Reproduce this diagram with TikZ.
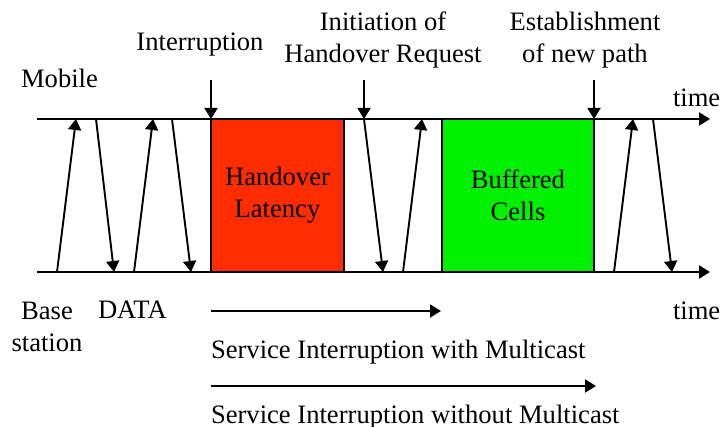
\documentclass[tikz,border=0pt]{standalone}
\usepackage{fontspec}
\setmainfont{Liberation Serif}
\usetikzlibrary{arrows.meta}
\definecolor{hored}{HTML}{FF2C00}
\definecolor{bufgreen}{HTML}{00F000}
\begin{document}
\begin{tikzpicture}[x=0.5pt,y=-0.5pt,
  every node/.style={font=\fontsize{13.3}{16}\selectfont, inner sep=0pt, outer sep=0pt},
  lbl/.style={anchor=base, align=center},
  tip/.style={-{Triangle[length=5.5pt,width=6.5pt]}},
  axis/.style={tip, line width=1.1pt},
  msg/.style={tip, line width=0.95pt},
  box/.style={draw=black, line width=1.1pt}]
\useasboundingbox (0,0) rectangle (721,427);
% axes
\coordinate (ts) at (37,119); \coordinate (te) at (710,119);
\coordinate (bs) at (37,272); \coordinate (be) at (710,272);
% boxes
\path[box, fill=hored] (211,119) rectangle (344,272);
\path[box, fill=bufgreen] (442,119) rectangle (594,272);
\node (hl) at (277.5,195.5) [align=center] {Handover\\Latency};
\node (bc) at (518,195.5) [align=center] {Buffered\\Cells};
\draw[axis] (ts) -- (te);
\draw[axis] (bs) -- (be);
% message coordinates
\coordinate (u1a) at (57,272);  \coordinate (u1b) at (76,119);
\coordinate (d1a) at (96,119);  \coordinate (d1b) at (114,272);
\coordinate (u2a) at (134,272); \coordinate (u2b) at (153,119);
\coordinate (d2a) at (172,119); \coordinate (d2b) at (191,272);
\coordinate (d3a) at (364,119); \coordinate (d3b) at (383,272);
\coordinate (u3a) at (403,272); \coordinate (u3b) at (422,119);
\coordinate (u4a) at (614,272); \coordinate (u4b) at (633,119);
\coordinate (d4a) at (653,119); \coordinate (d4b) at (672,272);
\foreach \a/\b in {u1a/u1b,d1a/d1b,u2a/u2b,d2a/d2b,d3a/d3b,u3a/u3b,u4a/u4b,d4a/d4b}
  \draw[msg] (\a) -- (\b);
% event markers
\coordinate (e1a) at (211,80); \coordinate (e1b) at (211,119);
\coordinate (e2a) at (364,80); \coordinate (e2b) at (364,119);
\coordinate (e3a) at (594,80); \coordinate (e3b) at (594,119);
\draw[msg] (e1a) -- (e1b);
\draw[msg] (e2a) -- (e2b);
\draw[msg] (e3a) -- (e3b);
% labels
\node[lbl] (mob) at (59.5,88) {Mobile};
\node[lbl] (intr) at (200,51) {Interruption};
\node[lbl] (init) at (383,63) {Initiation of\\Handover Request};
\node[lbl] (est) at (585,63) {Establishment\\of new path};
\node[lbl, anchor=base west] (t1) at (673,107) {time};
\node[lbl, anchor=base west] (t2) at (673,319) {time};
\node[lbl] (base) at (47,351) {Base\\station};
\node[lbl, anchor=base west] (data) at (98,318) {DATA};
% service interruption arrows
\coordinate (s1a) at (211,311); \coordinate (s1b) at (441,311);
\coordinate (s2a) at (211,386); \coordinate (s2b) at (596,386);
\draw[msg] (s1a) -- (s1b);
\draw[msg] (s2a) -- (s2b);
\node[lbl, anchor=base west] (sw) at (211,358) {Service Interruption with Multicast};
\node[lbl, anchor=base west] (swo) at (211,423) {Service Interruption without Multicast};
\end{tikzpicture}
\end{document}
